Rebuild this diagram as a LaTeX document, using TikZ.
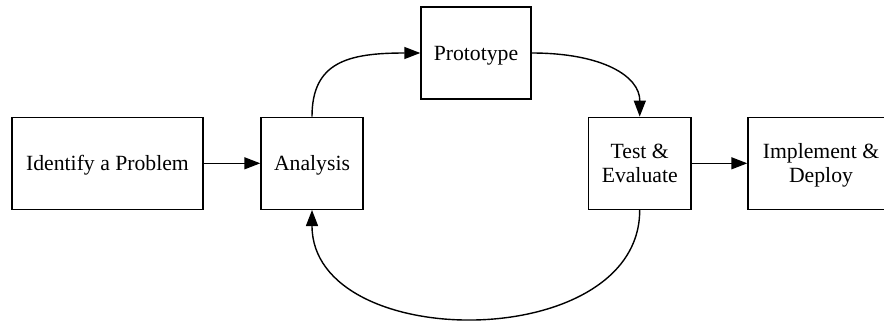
\documentclass[tikz,border=0pt]{standalone}
\usepackage{fontspec}
\setmainfont{Liberation Serif}
\usetikzlibrary{arrows.meta}
\begin{document}
\begin{tikzpicture}[x=1pt,y=-1pt,
  box/.style={draw,line width=1.4pt,rectangle,inner sep=0pt,minimum height=92pt,
    text depth=0pt,font=\fontsize{21.7}{24}\selectfont,align=center},
  conn/.style={line width=1.4pt,-{Triangle[length=16pt,width=12pt]}}]
\useasboundingbox (0,0) rectangle (884,322);
\node[box,minimum width=191pt] (idp) at (107.5,163.3) {Identify a Problem};
\node[box,minimum width=102pt] (ana) at (312,163.3) {Analysis};
\node[box,minimum width=110pt] (pro) at (476,53) {Prototype};
\node[box,minimum width=102.5pt] (tst) at (639.7,163.3) {Test \&\\Evaluate};
\node[box,minimum width=146pt] (imp) at (821,163.3) {Implement \&\\Deploy};
\draw[conn] (idp.east) -- (ana.west);
\draw[conn] (ana.north) .. controls (312,62) and (348,53) .. (pro.west);
\draw[conn] (pro.east) .. controls (602,53) and (640,76) .. (tst.north);
\draw[conn] (tst.south) .. controls (640,354) and (312,354) .. (ana.south);
\draw[conn] (tst.east) -- (imp.west);
\end{tikzpicture}
\end{document}
